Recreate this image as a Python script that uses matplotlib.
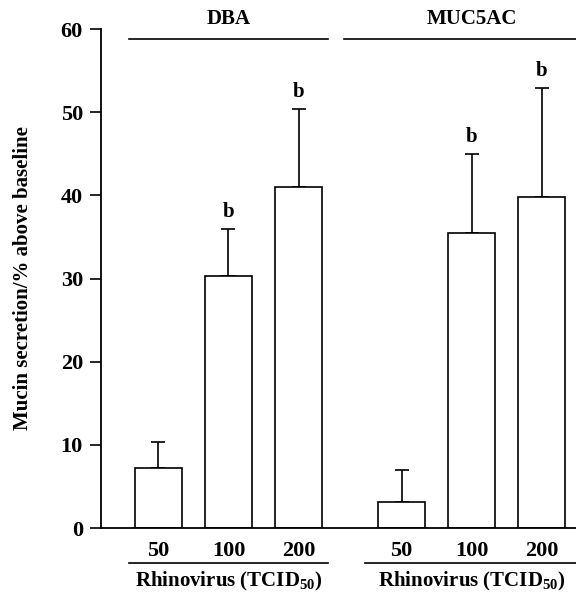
import numpy as np
import matplotlib
matplotlib.use("Agg")
import matplotlib.pyplot as plt
import matplotlib.transforms as mtrans

plt.rcParams['font.family'] = ['Liberation Serif', 'DejaVu Serif']
plt.rcParams['font.weight'] = 'bold'
plt.rcParams['mathtext.default'] = 'regular'

groups = ["DBA", "MUC5AC"]
doses = ["50", "100", "200"]
means = [[7.2, 30.3, 41.0], [3.1, 35.5, 39.8]]
errs = [[3.2, 5.6, 9.4], [3.9, 9.5, 13.1]]
sig_marks = [["", "b", "b"], ["", "b", "b"]]

group_gap = 3.47  # offset of second group (in bar spacings)
width = 0.67

fig = plt.figure(figsize=(5.76, 5.92), dpi=100)
ax = fig.add_axes([0.1753, 0.1081, 0.8247, 0.8429])

xs_all = []
for g, name in enumerate(groups):
    xs = np.arange(len(doses)) + g * group_gap
    xs_all += list(xs)
    ax.bar(xs, means[g], width, color="white", edgecolor="black", linewidth=1.2, zorder=2)
    ax.errorbar(xs, means[g], yerr=[np.zeros(3), errs[g]], fmt="none", ecolor="black",
                elinewidth=1.2, capsize=5, capthick=1.2, zorder=1)
    for x, m, e, s in zip(xs, means[g], errs[g], sig_marks[g]):
        if s:
            ax.annotate(s, (x, m + e), xytext=(0, 5), textcoords="offset points",
                        ha="center", va="bottom", fontsize=15, fontweight="bold")

ax.set_xlim(-0.82, 5.96)
ax.set_ylim(0, 60)
ax.set_yticks([0, 10, 20, 30, 40, 50, 60])
ax.set_xticks(xs_all)
ax.set_xticklabels(doses * 2)
ax.tick_params(axis="x", length=0, pad=9, labelsize=16)
ax.tick_params(axis="y", length=8, width=1.2, pad=5, labelsize=16)
for lab in ax.get_xticklabels() + ax.get_yticklabels():
    lab.set_fontweight("bold")
ax.spines["top"].set_visible(False)
ax.spines["right"].set_visible(False)
ax.spines["left"].set_linewidth(1.3)
ax.spines["bottom"].set_linewidth(1.3)
ax.set_ylabel("Mucin secretion/% above baseline", fontsize=15, fontweight="bold", labelpad=20)

# group header and footer lines
trans_top = mtrans.blended_transform_factory(ax.transData, ax.transAxes)
trans_bot = mtrans.blended_transform_factory(ax.transData, fig.transFigure)
top_spans = [(-0.42, 2.42), (2.65, 5.96)]
bot_spans = [(-0.42, 2.42), (2.95, 5.96)]
for g, name in enumerate(groups):
    x0, x1 = top_spans[g]
    ax.plot([x0, x1], [0.98, 0.98], color="black", lw=1.2, transform=trans_top, clip_on=False)
    ax.text(1 + g * group_gap, 1.0, name, transform=trans_top, ha="center", va="bottom",
            fontsize=15, fontweight="bold")
    x0, x1 = bot_spans[g]
    ax.plot([x0, x1], [0.049, 0.049], color="black", lw=1.2, transform=trans_bot, clip_on=False)
    ax.text(1 + g * group_gap, 0.017, "Rhinovirus (TCID$_{50}$)", transform=trans_bot,
            ha="center", va="center", fontsize=15, fontweight="bold")

fig.savefig("out.png", dpi=100)
